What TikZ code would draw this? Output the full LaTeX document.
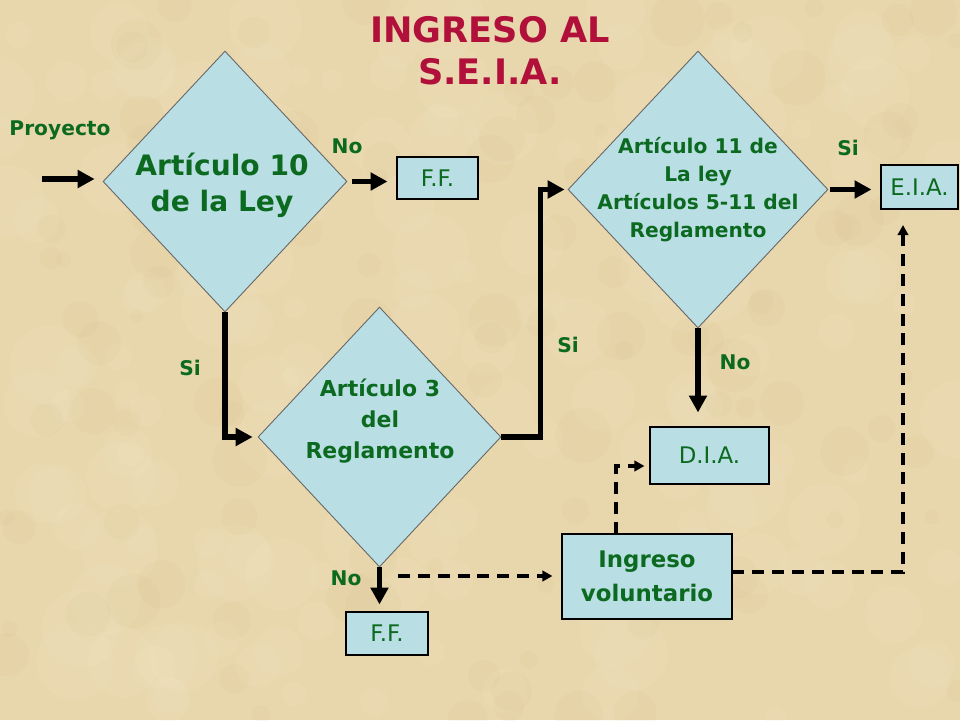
\documentclass[tikz,border=0pt]{standalone}
\usepackage{fontspec}
\setmainfont{DejaVu Sans}
\usetikzlibrary{shapes.geometric,arrows.meta,calc}
\definecolor{bg}{HTML}{E8D6AC}
\definecolor{bglight}{HTML}{F2E6C6}
\definecolor{bgdark}{HTML}{D9C292}
\definecolor{dfill}{HTML}{B9DEE4}
\definecolor{tgreen}{HTML}{0B6A1F}
\definecolor{tred}{HTML}{B0103A}
\begin{document}
\begin{tikzpicture}[x=0.02cm,y=-0.02cm,
  dia/.style={diamond, draw=black!60, line width=0.5pt, fill=dfill, inner sep=0pt, aspect=1},
  box/.style={rectangle, draw=black, line width=0.6pt, fill=dfill, inner sep=0pt, text=tgreen, font=\fontsize{13}{15}\selectfont},
  lbl/.style={text=tgreen, font=\bfseries\fontsize{11.5}{13}\selectfont, inner sep=0pt},
  dtext/.style={text=tgreen, align=center, inner sep=0pt},
  solidarrow/.style={line width=3pt, -{Triangle[length=9.6pt,width=9.8pt]}},
  dasharrow/.style={line width=2.3pt, dash pattern=on 6.8pt off 4.5pt, -{Triangle[length=5.8pt,width=6pt]}}]
\useasboundingbox (0,0) rectangle (960,720);
\begin{scope}
\clip (0,0) rectangle (960,720);
\fill[bg] (0,0) rectangle (960,720);
% parchment texture
\pgfmathsetseed{7}
\foreach \i in {1,...,160} {
  \pgfmathsetmacro{\cx}{rnd*960}
  \pgfmathsetmacro{\cy}{rnd*720}
  \pgfmathsetmacro{\cr}{10+rnd*30}
  \fill[bglight, opacity=0.18] (\cx,\cy) circle[radius=\cr*0.02cm];
}
\foreach \i in {1,...,120} {
  \pgfmathsetmacro{\cx}{rnd*960}
  \pgfmathsetmacro{\cy}{rnd*720}
  \pgfmathsetmacro{\cr}{6+rnd*22}
  \fill[bgdark, opacity=0.12] (\cx,\cy) circle[radius=\cr*0.02cm];
}
\end{scope}

% title
\node[text=tred, font=\bfseries\fontsize{20}{23.8}\selectfont, align=center] (title) at (490,51) {INGRESO AL\\S.E.I.A.};

% diamonds
\node[dia, minimum width=4.88cm, minimum height=5.22cm] (D1) at (225,181.5) {};
\node[dia, minimum width=4.86cm, minimum height=5.2cm] (D2) at (379.5,437) {};
\node[dia, minimum width=5.2cm, minimum height=5.54cm] (D3) at (698,189.5) {};
\node[dtext, font=\bfseries\fontsize{16}{20.4}\selectfont] (T1) at (222,185) {Artículo 10\\ de la Ley};
\node[dtext, font=\bfseries\fontsize{12.5}{17.6}\selectfont] (T2) at (380,421) {Artículo 3\\del\\Reglamento};
\node[dtext, font=\bfseries\fontsize{11.5}{16}\selectfont] (T3) at (698,189.5) {Artículo 11 de\\La ley\\Artículos 5-11 del\\Reglamento};

% boxes
\node[box, minimum width=1.62cm, minimum height=0.84cm] (FF1) at (437.5,178) {F.F.};
\node[box, minimum width=1.54cm, minimum height=0.88cm] (EIA) at (919.5,187) {E.I.A.};
\node[box, minimum width=2.38cm, minimum height=1.14cm] (DIA) at (709.5,455.5) {D.I.A.};
\node[box, minimum width=1.64cm, minimum height=0.86cm] (FF2) at (387,633.5) {F.F.};
\node[box, minimum width=3.4cm, minimum height=1.7cm, align=center, font=\bfseries\fontsize{13}{19}\selectfont] (ING) at (647,576.5) {Ingreso\\voluntario};

% labels
\node[lbl] (Lproy) at (60,130) {Proyecto};
\node[lbl] (Lno1) at (347,146) {No};
\node[lbl] (Lsi1) at (190,368) {Si};
\node[lbl] (Lsi2) at (568,345) {Si};
\node[lbl] (Lsi3) at (848,148) {Si};
\node[lbl] (Lno2) at (735,362) {No};
\node[lbl] (Lno3) at (346,578) {No};

% solid connectors
\coordinate (pin) at (42,179);
\draw[solidarrow, shorten >=0.16cm] (pin) -- (pin -| D1.west);
\draw[solidarrow, shorten <=0.1cm, shorten >=0.18cm] (D1.east) -- (D1.east -| FF1.west);
\draw[solidarrow, shorten >=0.1cm] (D1.south) |- (D2.west);
\draw[solidarrow, shorten >=0.06cm] (D2.east) -- ++(39,0) |- (D3.west);
\draw[solidarrow, shorten <=0.04cm, shorten >=0.18cm] (D3.east) -- (D3.east -| EIA.west);
\draw[solidarrow, shorten >=0.28cm] (D3.south) -- (D3.south |- DIA.north);
\draw[solidarrow, shorten >=0.14cm] (D2.south) -- (D2.south |- FF2.north);

% dashed connectors
\coordinate (dstart) at (398,576);
\coordinate (eiatip) at (903,225);
\draw[dasharrow, shorten >=0.18cm] (dstart) -- (dstart -| ING.west);
\draw[dasharrow, shorten >=0.1cm] ([xshift=-0.62cm]ING.north) |- ([yshift=-0.21cm]DIA.west);
\draw[dasharrow] ([yshift=0.09cm]ING.east) -| (eiatip);
\end{tikzpicture}
\end{document}
